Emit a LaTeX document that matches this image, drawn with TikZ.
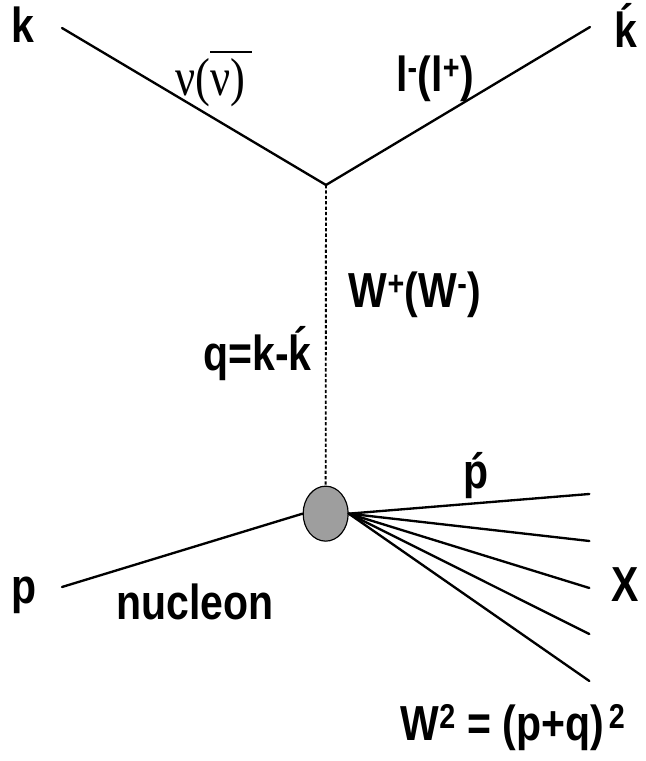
\documentclass[tikz,border=0pt]{standalone}
\usepackage{fontspec}
\setmainfont{Liberation Sans}
\newfontfamily\nufont{Liberation Serif}
\usetikzlibrary{shapes.geometric}
\newcommand{\tall}[1]{\scalebox{1}[1.2]{#1}}

\begin{document}
\begin{tikzpicture}[
  lbl/.style={inner sep=0pt, anchor=base, font=\bfseries\fontsize{35}{40}\selectfont},
  nulbl/.style={inner sep=0pt, anchor=base, font=\nufont\fontsize{38}{42}\selectfont},
  leg/.style={line width=2pt, line cap=round},
  wline/.style={line width=1.6pt, dash pattern=on 2.8pt off 1.8pt},
  blobst/.style={ellipse, draw, line width=1pt, fill=black!38,
                 minimum width=1.35cm, minimum height=1.65cm, inner sep=0pt}
]
\useasboundingbox (0,0) rectangle (19.38,22.83);

% Vertices and free ends
\coordinate (kin)  at (1.86,21.99);
\coordinate (kout) at (17.70,22.02);
\coordinate (v)    at (9.78,17.28);
\coordinate (pin)  at (1.86,5.22);
\node[blobst] (blob) at (9.77,7.42) {};

% Lepton lines
\draw[leg] (kin) -- (v);
\draw[leg] (v) -- (kout);

% Boson
\draw[wline] (v) -- (blob.north);

% Nucleon and hadronic final state
\draw[leg] (pin) -- (blob.west);
\foreach \i/\y in {1/8.01, 2/6.60, 3/5.19, 4/3.81, 5/2.40} {
  \coordinate (x\i) at (17.68,\y);
  \draw[leg] (blob.east) -- (x\i);
}

% Labels
\node[lbl] (lk)   at (0.69,21.54)  {\tall{k}};
\node[lbl] (lkp)  at (18.78,21.39) {\tall{\'k}};
\node[nulbl] (lnu) at (6.30,19.95) {\tall{ν(\rlap{\rule[0.8em]{0.95em}{1.3pt}}ν)}};
\node[lbl] (llep) at (13.05,20.07) {\tall{l\textsuperscript{-}(l\textsuperscript{+})}};
\node[lbl] (lw)   at (12.45,13.59) {\tall{W\textsuperscript{+}(W\textsuperscript{-})}};
\node[lbl, anchor=base east] (lq) at (9.36,11.70) {\tall{q=k-\'k}};
\node[lbl] (lpp)  at (14.28,8.16)  {\tall{\'p}};
\node[lbl] (lx)   at (18.75,4.77)  {\tall{X}};
\node[lbl] (lp)   at (0.72,4.71)   {\tall{p}};
\node[lbl] (lnuc) at (5.85,4.23)   {\tall{nucleon}};
\node[lbl] (lw2)  at (15.39,0.60)  {\tall{W\textsuperscript{2} = (p+q)\textsuperscript{\,2}}};
\end{tikzpicture}
\end{document}
